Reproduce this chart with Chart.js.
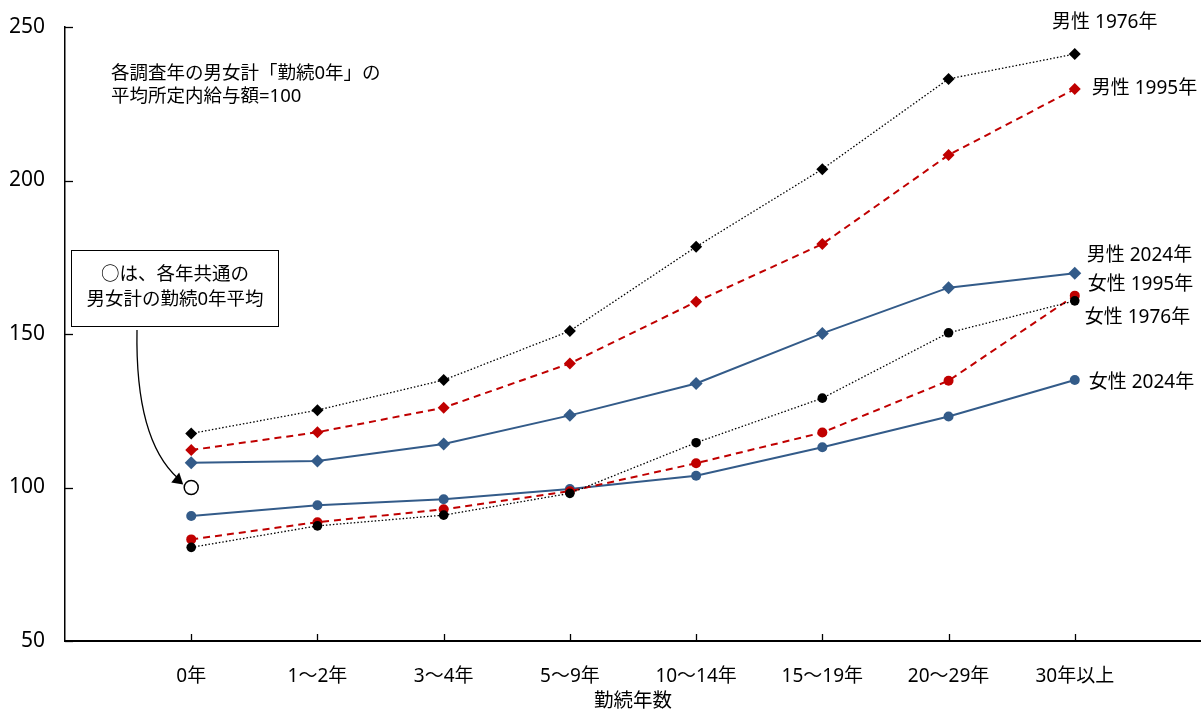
<!DOCTYPE html>
<html>
<head>
<meta charset="utf-8">
<script src="https://cdn.jsdelivr.net/npm/chart.js@4"></script>
<style>
  html, body { margin: 0; padding: 0; background: #fff; }
  #wrap { width: 1201px; height: 713px; }
</style>
</head>
<body>
<div id="wrap"><canvas id="chart" width="1201" height="713"></canvas></div>
<script>
/* ---------- DATA ---------- */
const categories = ["0年", "1～2年", "3～4年", "5～9年", "10～14年", "15～19年", "20～29年", "30年以上"];
const yTicks = [50, 100, 150, 200, 250];

const male1976 = [117.6, 125.2, 135.0, 151.0, 178.4, 203.7, 233.1, 241.2];
const male1995 = [112.2, 118.0, 126.0, 140.4, 160.5, 179.3, 208.3, 229.8];
const male2024 = [108.1, 108.6, 114.2, 123.5, 133.9, 150.2, 165.1, 169.8];
const female1976 = [80.5, 87.5, 91.0, 98.1, 114.6, 129.1, 150.4, 160.8];
const female1995 = [83.1, 88.7, 92.9, 98.8, 107.9, 117.9, 134.8, 162.5];
const female2024 = [90.7, 94.2, 96.2, 99.5, 103.8, 113.1, 123.1, 135.0];
const basePoint = 100;

const FONT = "'Noto Sans', 'Noto Sans CJK JP', sans-serif";
const BLUE = "#335b89";
const RED = "#c00000";

function pts(arr) {
  return arr.map((v, i) => ({ x: i, y: v }));
}

function series(label, data, color, dash, width, shape, radius) {
  return {
    label: label,
    data: pts(data),
    borderColor: color,
    backgroundColor: color,
    borderWidth: width,
    borderDash: dash,
    pointStyle: shape,
    pointRadius: radius,
    pointBorderWidth: 0,
    pointBackgroundColor: color,
    tension: 0
  };
}

/* ---------- DECORATION PLUGIN ---------- */
const decor = {
  id: "decor",
  afterDraw(chart) {
    const ctx = chart.ctx;
    const xs = chart.scales.x, ys = chart.scales.y;
    const area = chart.chartArea;
    ctx.save();

    // inward tick marks
    ctx.strokeStyle = "#000";
    ctx.lineWidth = 1.3;
    categories.forEach((c, i) => {
      const px = Math.round(xs.getPixelForValue(i)) + 0.5;
      ctx.beginPath();
      ctx.moveTo(px, area.bottom);
      ctx.lineTo(px, area.bottom - 7);
      ctx.stroke();
    });
    yTicks.forEach(v => {
      const py = Math.round(ys.getPixelForValue(v)) + 0.5;
      ctx.beginPath();
      ctx.moveTo(area.left, py);
      ctx.lineTo(area.left + 8, py);
      ctx.stroke();
    });

    // series labels at line ends
    const last = categories.length - 1;
    const lx = xs.getPixelForValue(last);
    ctx.fillStyle = "#000";
    ctx.font = "19px " + FONT;
    ctx.textBaseline = "middle";
    ctx.textAlign = "center";
    ctx.fillText("男性 1976年", lx + 30, ys.getPixelForValue(male1976[last]) - 31);
    ctx.textAlign = "left";
    ctx.fillText("男性 1995年", lx + 17, ys.getPixelForValue(male1995[last]));
    ctx.fillText("男性 2024年", lx + 12, ys.getPixelForValue(male2024[last]) - 18);
    ctx.fillText("女性 1995年", lx + 13, ys.getPixelForValue(female1995[last]) - 11);
    ctx.fillText("女性 1976年", lx + 10, ys.getPixelForValue(female1976[last]) + 17);
    ctx.fillText("女性 2024年", lx + 14, ys.getPixelForValue(female2024[last]) + 3);

    // note at top left
    ctx.font = "18.5px " + FONT;
    ctx.fillText("各調査年の男女計「勤続0年」の", 111, 74);
    ctx.fillText("平均所定内給与額=100", 111, 97);

    // boxed note
    ctx.lineWidth = 1;
    ctx.strokeStyle = "#000";
    ctx.fillStyle = "#fff";
    ctx.fillRect(71.5, 250.5, 207, 76);
    ctx.strokeRect(71.5, 250.5, 207, 76);
    ctx.fillStyle = "#000";
    ctx.textAlign = "center";
    ctx.fillText("○は、各年共通の", 175, 275);
    ctx.fillText("男女計の勤続0年平均", 175, 300);

    // curved arrow to the 100 marker
    const bx = xs.getPixelForValue(0);
    const by = ys.getPixelForValue(basePoint);
    const ex = bx - 9, ey = by - 4;
    ctx.lineWidth = 1.3;
    ctx.beginPath();
    ctx.moveTo(137, 330);
    ctx.quadraticCurveTo(135, 440, ex - 4, ey - 5);
    ctx.stroke();
    ctx.beginPath();
    ctx.moveTo(ex + 1, ey + 1);
    ctx.lineTo(ex - 11, ey - 1);
    ctx.lineTo(ex - 3, ey - 11);
    ctx.closePath();
    ctx.fill();

    ctx.restore();
  }
};

/* ---------- CHART ---------- */
new Chart(document.getElementById("chart"), {
  type: "line",
  data: {
    datasets: [
      series("女性 1976年", female1976, "#000", [1.5, 2], 1.3, "circle", 4.8),
      series("男性 1976年", male1976, "#000", [1.5, 2], 1.3, "rectRot", 6),
      series("女性 1995年", female1995, RED, [7, 5], 2, "circle", 5),
      series("男性 1995年", male1995, RED, [7, 5], 2, "rectRot", 6),
      series("女性 2024年", female2024, BLUE, [], 2, "circle", 5),
      series("男性 2024年", male2024, BLUE, [], 2, "rectRot", 6.5),
      {
        label: "基準",
        data: [{ x: 0, y: basePoint }],
        showLine: false,
        pointStyle: "circle",
        pointRadius: 7,
        pointBackgroundColor: "#fff",
        pointBorderColor: "#000",
        pointBorderWidth: 1.5
      }
    ]
  },
  options: {
    responsive: false,
    animation: false,
    layout: { autoPadding: false, padding: { top: 27, right: 0, left: 0, bottom: 0 } },
    plugins: {
      legend: { display: false },
      tooltip: { enabled: false }
    },
    scales: {
      x: {
        type: "linear",
        min: -1,
        max: categories.length,
        afterFit(scale) {
          scale.height = 72;
          scale.paddingLeft = 0;
          scale.paddingRight = 0;
        },
        afterBuildTicks(scale) {
          scale.ticks = categories.map((c, i) => ({ value: i }));
        },
        border: { color: "#000", width: 2 },
        grid: { display: false, drawTicks: false },
        ticks: {
          padding: 24,
          color: "#000",
          font: { family: FONT, size: 19 },
          autoSkip: false,
          maxRotation: 0,
          callback: v => categories[v] ?? ""
        },
        title: {
          display: true,
          text: "勤続年数",
          color: "#000",
          font: { family: FONT, size: 19.5 },
          padding: { top: 0, bottom: 0 }
        }
      },
      y: {
        min: 50,
        max: 250,
        afterFit(scale) {
          scale.width = 65;
          scale.paddingTop = 0;
          scale.paddingBottom = 0;
        },
        afterBuildTicks(scale) {
          scale.ticks = yTicks.map(v => ({ value: v }));
        },
        border: { color: "#000", width: 1.5 },
        grid: { display: false, drawTicks: false },
        ticks: {
          padding: 20,
          color: "#000",
          font: { family: FONT, size: 21 }
        }
      }
    }
  },
  plugins: [decor]
});
</script>
</body>
</html>
